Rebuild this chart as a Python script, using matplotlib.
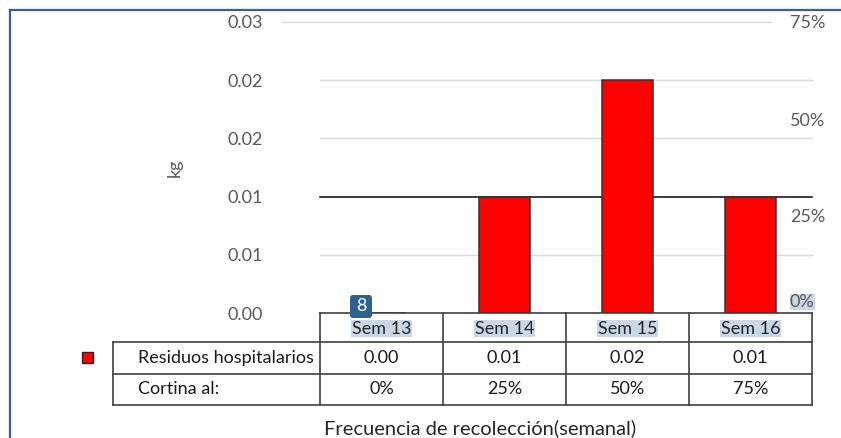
import numpy as np
import matplotlib.pyplot as plt
from matplotlib.patches import FancyBboxPatch, Rectangle

# Datos
semanas = ["Sem 13", "Sem 14", "Sem 15", "Sem 16"]
residuos = [0.0, 0.012, 0.024, 0.012]        # kg
cortina = [0.0, 0.25, 0.50, 0.75]            # fracción
fila_residuos = "Residuos hospitalarios"
fila_cortina = "Cortina al:"

W, H = 841, 438
plt.rcParams["font.family"] = ["Lato", "DejaVu Sans"]
GRIS = "#595959"
LINEA = "#404040"
ROJO = "#ff0000"
FS = 13

fig = plt.figure(figsize=(W / 100, H / 100), dpi=100)

# Área de trazado
x0, x1, y_top, y_bot = 320, 812, 22, 313
ax = fig.add_axes([x0 / W, (H - y_bot) / H, (x1 - x0) / W, (y_bot - y_top) / H])
ax.set_xlim(-0.5, len(semanas) - 0.5)
ax.set_ylim(0, 0.03)
for s in ax.spines.values():
    s.set_visible(False)
ax.set_xticks([])
yt = np.arange(0, 0.0301, 0.006)
ax.set_yticks(yt)
ax.set_yticklabels([f"{v:.2f}" for v in yt], color=GRIS, fontsize=FS)
ax.tick_params(axis="y", length=0, pad=41)
ax.set_ylabel("kg", color=GRIS, fontsize=FS, labelpad=32)

# Líneas de división
tr = ax.get_yaxis_transform()
for v in yt[1:]:
    if np.isclose(v, 0.03):
        ax.plot([-0.077, 0.916], [v, v], transform=tr, color="#d9d9d9", lw=1, clip_on=False, zorder=0)
    elif np.isclose(v, 0.012):
        ax.plot([0, 1], [v, v], transform=tr, color="#1a1a1a", lw=1.2, clip_on=False, zorder=0)
    else:
        ax.plot([0, 1], [v, v], transform=tr, color="#d9d9d9", lw=1, clip_on=False, zorder=0)

ax.bar(range(len(semanas)), residuos, width=0.41, color=ROJO, edgecolor="#333333", lw=1.1, zorder=2)

# Eje secundario (porcentaje)
ax2 = ax.twinx()
ax2.set_ylim(0, 0.75)
for s in ax2.spines.values():
    s.set_visible(False)
ax2.plot(range(len(semanas)), cortina, lw=0)
ax2.set_yticks([0.25, 0.50, 0.75])
ax2.set_yticklabels(["25%", "50%", "75%"], color=GRIS, fontsize=FS)
ax2.tick_params(axis="y", length=0, pad=-16)
ax2.text(0.955, 0.008, "0%", transform=ax2.get_yaxis_transform(), color=GRIS, fontsize=FS,
         ha="left", va="bottom",
         bbox=dict(boxstyle="square,pad=0.0", fc="#c9d7e6", ec="none"))

# Capa en píxeles para marco y tabla (encima)
bg = fig.add_axes([0, 0, 1, 1], zorder=10)
bg.patch.set_alpha(0)
bg.set_xlim(0, W)
bg.set_ylim(H, 0)
bg.axis("off")

# Marco del gráfico
bg.plot([10, W], [10, 10], color="#3b5e95", lw=1.6)
bg.plot([10, 10], [10, H], color="#3b5e95", lw=1.6)

# Tabla de datos
col_w = (x1 - x0) / len(semanas)
r0, r1, r2, r3 = 313, 342, 374, 405
lab_x = 113
bg.plot([x0, x1], [r0, r0], color=LINEA, lw=1.2)
for yy in (r1, r2, r3):
    bg.plot([lab_x, x1], [yy, yy], color=LINEA, lw=1.2)
for i in range(len(semanas) + 1):
    xx = x0 + i * col_w
    bg.plot([xx, xx], [r0, r3], color=LINEA, lw=1.2)
bg.plot([lab_x, lab_x], [r1, r3], color=LINEA, lw=1.2)

for i, (s, r, c) in enumerate(zip(semanas, residuos, cortina)):
    cx = x0 + (i + 0.5) * col_w
    bg.text(cx, (r0 + r1) / 2 + 1, s, ha="center", va="center", fontsize=FS, color="#262626",
            bbox=dict(boxstyle="square,pad=0.05", fc="#c9d7e6", ec="none"))
    bg.text(cx, (r1 + r2) / 2, f"{r:.2f}", ha="center", va="center", fontsize=FS, color="#1a1a1a")
    bg.text(cx, (r2 + r3) / 2, f"{c:.0%}", ha="center", va="center", fontsize=FS, color="#1a1a1a")

bg.text(138, (r1 + r2) / 2, fila_residuos, ha="left", va="center", fontsize=FS, color="#1a1a1a")
bg.text(138, (r2 + r3) / 2, fila_cortina, ha="left", va="center", fontsize=FS, color="#1a1a1a")
bg.add_patch(Rectangle((82, 352), 11, 11, fc=ROJO, ec="#262626", lw=1))

# Etiqueta "8"
bg.add_patch(FancyBboxPatch((350, 295), 22, 23, boxstyle="round,pad=0,rounding_size=3",
                            fc="#2f6190", ec="none", zorder=5))
bg.text(361, 306, "8", ha="center", va="center", color="white", fontsize=FS, zorder=6)

bg.text(480, 428, "Frecuencia de recolección(semanal)", ha="center", va="center",
        fontsize=14.5, color="#262626")

fig.savefig("out.png", dpi=100, facecolor="white")
